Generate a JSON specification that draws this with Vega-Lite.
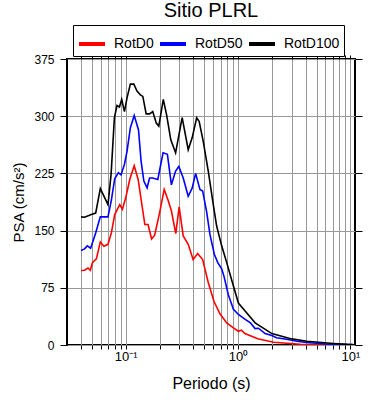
{
  "$schema": "https://vega.github.io/schema/vega-lite/v6.json",
  "width": 288,
  "height": 286,
  "autosize": "none",
  "padding": {"left": 67, "top": 59, "right": 35, "bottom": 55},
  "config": {
    "font": "Liberation Sans",
    "view": {"stroke": "black", "strokeWidth": 2}
  },
  "title": {"text": "Sitio PLRL", "fontSize": 20, "fontWeight": "normal", "color": "black", "font": "Liberation Sans", "baseline": "alphabetic", "offset": -12},
  "data": {"values": [
    {"T":0.04,"comp":"RotD0","PSA":97.7},{"T":0.043,"comp":"RotD0","PSA":98},{"T":0.0461,"comp":"RotD0","PSA":101},{"T":0.0484,"comp":"RotD0","PSA":98},{"T":0.0505,"comp":"RotD0","PSA":108},{"T":0.0548,"comp":"RotD0","PSA":113},{"T":0.0594,"comp":"RotD0","PSA":135},{"T":0.064,"comp":"RotD0","PSA":129.5},{"T":0.0695,"comp":"RotD0","PSA":132},{"T":0.0745,"comp":"RotD0","PSA":147},{"T":0.0798,"comp":"RotD0","PSA":171},{"T":0.0884,"comp":"RotD0","PSA":184},{"T":0.0934,"comp":"RotD0","PSA":178},{"T":0.1,"comp":"RotD0","PSA":193},{"T":0.1086,"comp":"RotD0","PSA":217},{"T":0.119,"comp":"RotD0","PSA":235},{"T":0.129,"comp":"RotD0","PSA":217},{"T":0.148,"comp":"RotD0","PSA":158},{"T":0.158,"comp":"RotD0","PSA":158},{"T":0.17,"comp":"RotD0","PSA":139},{"T":0.181,"comp":"RotD0","PSA":144},{"T":0.2,"comp":"RotD0","PSA":173},{"T":0.22,"comp":"RotD0","PSA":204},{"T":0.238,"comp":"RotD0","PSA":190},{"T":0.255,"comp":"RotD0","PSA":176},{"T":0.279,"comp":"RotD0","PSA":146},{"T":0.299,"comp":"RotD0","PSA":181},{"T":0.325,"comp":"RotD0","PSA":143},{"T":0.36,"comp":"RotD0","PSA":132},{"T":0.398,"comp":"RotD0","PSA":112},{"T":0.437,"comp":"RotD0","PSA":120},{"T":0.484,"comp":"RotD0","PSA":112},{"T":0.543,"comp":"RotD0","PSA":82},{"T":0.611,"comp":"RotD0","PSA":57},{"T":0.69,"comp":"RotD0","PSA":41},{"T":0.793,"comp":"RotD0","PSA":29},{"T":0.91,"comp":"RotD0","PSA":22.5},{"T":1.007,"comp":"RotD0","PSA":18},{"T":1.07,"comp":"RotD0","PSA":19.4},{"T":1.15,"comp":"RotD0","PSA":15},{"T":1.5,"comp":"RotD0","PSA":8.2},{"T":2.07,"comp":"RotD0","PSA":3.7},{"T":3.58,"comp":"RotD0","PSA":1},{"T":6,"comp":"RotD0","PSA":0.5},{"T":10.5,"comp":"RotD0","PSA":0.3},
    {"T":0.04,"comp":"RotD50","PSA":124},{"T":0.043,"comp":"RotD50","PSA":126},{"T":0.0455,"comp":"RotD50","PSA":130},{"T":0.0487,"comp":"RotD50","PSA":127},{"T":0.054,"comp":"RotD50","PSA":147},{"T":0.0594,"comp":"RotD50","PSA":168},{"T":0.0695,"comp":"RotD50","PSA":168},{"T":0.0745,"comp":"RotD50","PSA":190},{"T":0.0798,"comp":"RotD50","PSA":218},{"T":0.086,"comp":"RotD50","PSA":226},{"T":0.0908,"comp":"RotD50","PSA":223},{"T":0.0974,"comp":"RotD50","PSA":237},{"T":0.1027,"comp":"RotD50","PSA":254},{"T":0.11,"comp":"RotD50","PSA":285},{"T":0.119,"comp":"RotD50","PSA":301},{"T":0.13,"comp":"RotD50","PSA":282},{"T":0.137,"comp":"RotD50","PSA":241},{"T":0.145,"comp":"RotD50","PSA":215},{"T":0.155,"comp":"RotD50","PSA":206},{"T":0.163,"comp":"RotD50","PSA":219},{"T":0.174,"comp":"RotD50","PSA":219},{"T":0.193,"comp":"RotD50","PSA":217},{"T":0.215,"comp":"RotD50","PSA":252},{"T":0.235,"comp":"RotD50","PSA":250},{"T":0.255,"comp":"RotD50","PSA":210},{"T":0.278,"comp":"RotD50","PSA":228},{"T":0.297,"comp":"RotD50","PSA":234},{"T":0.325,"comp":"RotD50","PSA":219},{"T":0.36,"comp":"RotD50","PSA":195},{"T":0.391,"comp":"RotD50","PSA":206},{"T":0.419,"comp":"RotD50","PSA":225},{"T":0.458,"comp":"RotD50","PSA":204},{"T":0.484,"comp":"RotD50","PSA":202},{"T":0.525,"comp":"RotD50","PSA":175},{"T":0.562,"comp":"RotD50","PSA":145},{"T":0.615,"comp":"RotD50","PSA":119},{"T":0.66,"comp":"RotD50","PSA":108},{"T":0.715,"comp":"RotD50","PSA":100},{"T":0.75,"comp":"RotD50","PSA":90},{"T":0.819,"comp":"RotD50","PSA":66},{"T":0.879,"comp":"RotD50","PSA":53},{"T":0.907,"comp":"RotD50","PSA":47},{"T":1.007,"comp":"RotD50","PSA":40},{"T":1.15,"comp":"RotD50","PSA":34},{"T":1.29,"comp":"RotD50","PSA":29},{"T":1.42,"comp":"RotD50","PSA":21.5},{"T":1.52,"comp":"RotD50","PSA":22},{"T":1.74,"comp":"RotD50","PSA":15},{"T":2.0,"comp":"RotD50","PSA":12.5},{"T":2.2,"comp":"RotD50","PSA":9.5},{"T":2.7,"comp":"RotD50","PSA":7.5},{"T":3.45,"comp":"RotD50","PSA":4.5},{"T":4.1,"comp":"RotD50","PSA":3.3},{"T":6.0,"comp":"RotD50","PSA":1.3},{"T":8.15,"comp":"RotD50","PSA":0.8},{"T":10.5,"comp":"RotD50","PSA":0.5},
    {"T":0.04,"comp":"RotD100","PSA":168},{"T":0.043,"comp":"RotD100","PSA":167.5},{"T":0.0494,"comp":"RotD100","PSA":171},{"T":0.054,"comp":"RotD100","PSA":173},{"T":0.0594,"comp":"RotD100","PSA":205},{"T":0.0695,"comp":"RotD100","PSA":184},{"T":0.074,"comp":"RotD100","PSA":223},{"T":0.0793,"comp":"RotD100","PSA":298},{"T":0.0836,"comp":"RotD100","PSA":314},{"T":0.0879,"comp":"RotD100","PSA":312},{"T":0.0921,"comp":"RotD100","PSA":322},{"T":0.0974,"comp":"RotD100","PSA":306},{"T":0.1027,"comp":"RotD100","PSA":324},{"T":0.11,"comp":"RotD100","PSA":342},{"T":0.118,"comp":"RotD100","PSA":342},{"T":0.126,"comp":"RotD100","PSA":333},{"T":0.135,"comp":"RotD100","PSA":328},{"T":0.142,"comp":"RotD100","PSA":326},{"T":0.152,"comp":"RotD100","PSA":303},{"T":0.163,"comp":"RotD100","PSA":303},{"T":0.174,"comp":"RotD100","PSA":306},{"T":0.187,"comp":"RotD100","PSA":291},{"T":0.197,"comp":"RotD100","PSA":287},{"T":0.216,"comp":"RotD100","PSA":322},{"T":0.231,"comp":"RotD100","PSA":302},{"T":0.252,"comp":"RotD100","PSA":269},{"T":0.278,"comp":"RotD100","PSA":252},{"T":0.318,"comp":"RotD100","PSA":298},{"T":0.36,"comp":"RotD100","PSA":256},{"T":0.391,"comp":"RotD100","PSA":272},{"T":0.428,"comp":"RotD100","PSA":298},{"T":0.451,"comp":"RotD100","PSA":293},{"T":0.49,"comp":"RotD100","PSA":267},{"T":0.543,"comp":"RotD100","PSA":228},{"T":0.602,"comp":"RotD100","PSA":184},{"T":0.645,"comp":"RotD100","PSA":156},{"T":0.715,"comp":"RotD100","PSA":130},{"T":0.793,"comp":"RotD100","PSA":108},{"T":0.879,"comp":"RotD100","PSA":85},{"T":1.007,"comp":"RotD100","PSA":55},{"T":1.197,"comp":"RotD100","PSA":42},{"T":1.42,"comp":"RotD100","PSA":29},{"T":2.0,"comp":"RotD100","PSA":15},{"T":3.0,"comp":"RotD100","PSA":8},{"T":4.1,"comp":"RotD100","PSA":5},{"T":7.1,"comp":"RotD100","PSA":2},{"T":9.3,"comp":"RotD100","PSA":0.8},{"T":10.5,"comp":"RotD100","PSA":0.6}
  ]},
  "layer": [
    {
      "mark": {"type": "line", "strokeWidth": 1.6, "clip": true},
      "encoding": {
        "x": {"field": "T", "type": "quantitative",
          "scale": {"type": "log", "domain": [0.03, 11], "nice": false},
          "axis": {"orient": "bottom", "title": "Periodo (s)", "titleFontSize": 16, "titleFontWeight": "normal", "titleColor": "black", "titlePadding": 12,
            "values": [0.04,0.05,0.06,0.07,0.08,0.09,0.1,0.2,0.3,0.4,0.5,0.6,0.7,0.8,0.9,1,2,3,4,5,6,7,8,9,10],
            "labelExpr": "datum.value == 0.1 ? '10⁻¹' : datum.value == 1 ? '10⁰' : datum.value == 10 ? '10¹' : ''",
            "labelFontSize": 13, "labelColor": "black", "labelPadding": 1, "labelFlush": false, "labelOverlap": false,
            "tickSize": 4, "tickColor": "black", "tickWidth": 1, "domain": false,
            "grid": true, "gridColor": "#999999", "gridWidth": 1}},
        "y": {"field": "PSA", "type": "quantitative",
          "scale": {"domain": [0, 375], "nice": false},
          "axis": {"orient": "left", "title": "PSA (cm/s²)", "titleFontSize": 15, "titleFontWeight": "normal", "titleColor": "black", "titlePadding": 7,
            "values": [0,75,150,225,300,375], "labelFontSize": 12, "labelColor": "black", "labelPadding": 6,
            "tickSize": 7, "tickColor": "black", "tickWidth": 1, "domain": false,
            "grid": true, "gridColor": "#999999", "gridWidth": 1}},
        "color": {"field": "comp", "type": "nominal",
          "scale": {"domain": ["RotD0", "RotD50", "RotD100"], "range": ["#ff0000", "#0000ff", "#000000"]},
          "legend": {"orient": "none", "legendX": 6, "legendY": -34, "direction": "horizontal", "title": null,
            "strokeColor": "black", "fillColor": "white", "padding": 4, "gridAlign": "none",
            "symbolType": "stroke", "symbolStrokeWidth": 4, "symbolSize": 676,
            "labelFont": "Liberation Sans", "labelFontSize": 14, "labelColor": "black", "labelOffset": 7, "columnPadding": -2}}
      }
    },
    {
      "mark": {"type": "point", "opacity": 0},
      "encoding": {
        "x": {"field": "T", "type": "quantitative",
          "scale": {"type": "log", "domain": [0.03, 11], "nice": false},
          "axis": {"orient": "top", "title": null, "labels": false, "grid": false, "domain": false,
            "values": [0.04,0.05,0.06,0.07,0.08,0.09,0.1,0.2,0.3,0.4,0.5,0.6,0.7,0.8,0.9,1,2,3,4,5,6,7,8,9,10],
            "tickSize": 4, "tickColor": "black", "tickWidth": 1}},
        "y": {"field": "PSA", "type": "quantitative",
          "scale": {"domain": [0, 375], "nice": false},
          "axis": {"orient": "right", "title": null, "labels": false, "grid": false, "domain": false,
            "values": [0,75,150,225,300,375], "tickSize": 7, "tickColor": "black", "tickWidth": 1}}
      }
    }
  ],
  "resolve": {"axis": {"x": "independent", "y": "independent"}}
}
